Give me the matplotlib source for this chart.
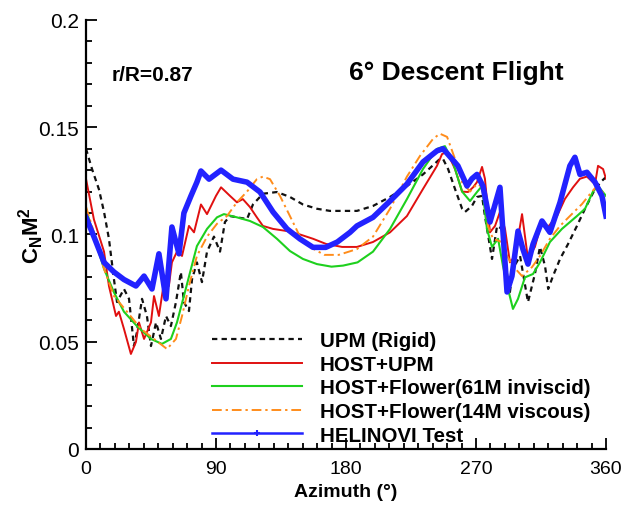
import matplotlib
matplotlib.use('Agg')
import matplotlib.pyplot as plt
from matplotlib.lines import Line2D

plt.rcParams['font.family'] = ['Liberation Sans', 'DejaVu Sans']
plt.rcParams['mathtext.fontset'] = 'custom'
plt.rcParams['mathtext.rm'] = 'Liberation Sans'
plt.rcParams['mathtext.bf'] = 'Liberation Sans:bold'

# HELINOVI test (blue)
az_test = [0, 5.5, 12.5, 19.4, 26.3, 34.6, 40.2, 45.7, 50.5, 55.4, 59.5, 64.4, 67.8,
           72.7, 76.8, 79.6, 85.2, 93.5, 101.8, 111.5, 120.5, 129.5, 139.2, 148.2,
           157.2, 166, 174, 182.8, 187.6, 198.7, 210.5, 222.2, 233.3, 243, 247.2,
           253.4, 257.5, 263.8, 267.2, 270.7, 274.8, 279.7, 286.6, 291.5, 294.9,
           299.1, 302.5, 306, 309.5, 315.7, 321.2, 328.2, 335, 338.5, 342, 346.8,
           352.4, 357.2, 360]
cn_test = [0.108, 0.099, 0.087, 0.0825, 0.079, 0.076, 0.0806, 0.0746, 0.091, 0.070,
           0.1035, 0.091, 0.110, 0.118, 0.1244, 0.1296, 0.1258, 0.130, 0.1258, 0.1244,
           0.1198, 0.1105, 0.1026, 0.0979, 0.094, 0.094, 0.0965, 0.101, 0.104, 0.108,
           0.1156, 0.1235, 0.1338, 0.139, 0.140, 0.1352, 0.132, 0.1226, 0.126, 0.128,
           0.1226, 0.1058, 0.122, 0.0732, 0.0806, 0.1016, 0.0932, 0.0862, 0.0955,
           0.1063, 0.101, 0.115, 0.132, 0.136, 0.128, 0.129, 0.1244, 0.118, 0.1086]

# HOST+UPM (red)
az_hu = [0, 5.5, 12.5, 15.9, 20.8, 22.8, 26.3, 31.1, 34.6, 36.7, 40.2, 45, 47.1, 50.5,
         54, 57.4, 59.5, 63, 66.5, 71.3, 74.8, 79.6, 83.8, 90, 93.5, 99.7, 104.5,
         108.6, 113.5, 118.3, 122.5, 129.5, 139.2, 148.2, 157.2, 166.2, 177.3, 187.6,
         198.7, 210.5, 222.2, 233.3, 243, 246.5, 250, 255.5, 260.4, 264.5, 268, 270.7,
         274.2, 276.2, 279.7, 283.2, 286.6, 290.1, 293.5, 297, 301.9, 306, 310.8,
         315.7, 319.8, 326.1, 331.6, 337.2, 342, 346.8, 352.4, 354.5, 358, 360]
cn_hu = [0.126, 0.107, 0.092, 0.076, 0.062, 0.064, 0.056, 0.0443, 0.0499, 0.059, 0.0513,
         0.059, 0.0713, 0.062, 0.0778, 0.076, 0.087, 0.092, 0.090, 0.104, 0.101, 0.114,
         0.1095, 0.118, 0.122, 0.118, 0.115, 0.1165, 0.1128, 0.108, 0.104, 0.1026,
         0.1016, 0.100, 0.098, 0.0956, 0.0942, 0.0942, 0.0965, 0.101, 0.1086, 0.1212,
         0.132, 0.1375, 0.1385, 0.1305, 0.120, 0.1198, 0.122, 0.1244, 0.1315, 0.126,
         0.101, 0.104, 0.1105, 0.1026, 0.087, 0.090, 0.1095, 0.0886, 0.0942, 0.1063,
         0.1035, 0.1086, 0.1166, 0.122, 0.126, 0.127, 0.1235, 0.132, 0.1305, 0.126]

# HOST+Flower 61M inviscid (green)
az_fi = [0, 5.5, 12.5, 19.4, 26.3, 35.3, 45, 52.6, 58.8, 63, 67.8, 72.7, 76.8, 83.8,
         90.7, 95.5, 104.5, 113.5, 122.5, 132.2, 141.2, 150.2, 159.9, 170, 178, 188,
         198.7, 210.5, 222.2, 233.3, 243, 248.5, 254, 260.4, 265.9, 270.7, 274.2,
         277.6, 281.1, 285.3, 288.7, 292.2, 295.6, 299.1, 303.9, 309.5, 314.3, 321.2,
         329.5, 339.9, 345.5, 351, 354.5, 360]
cn_fi = [0.112, 0.099, 0.084, 0.073, 0.064, 0.0573, 0.0513, 0.049, 0.0513, 0.059,
         0.0713, 0.084, 0.0946, 0.1026, 0.108, 0.1095, 0.108, 0.1063, 0.1035, 0.098,
         0.0923, 0.0886, 0.0862, 0.085, 0.0855, 0.087, 0.092, 0.1026, 0.1165, 0.1305,
         0.1399, 0.1412, 0.1338, 0.120, 0.1156, 0.1198, 0.1226, 0.1026, 0.0942, 0.098,
         0.0853, 0.0746, 0.0653, 0.070, 0.080, 0.0816, 0.087, 0.0965, 0.1026, 0.1086,
         0.112, 0.120, 0.1226, 0.118]

# HOST+Flower 14M viscous (orange)
az_fv = [0, 5.5, 12.5, 19.4, 28.4, 38.1, 47.1, 56.1, 62.3, 66.5, 71.3, 76.8, 83.8,
         90.7, 97.6, 104.5, 111.5, 118.3, 122.5, 127.4, 134.3, 141.2, 148.2, 155.1,
         165, 175, 187.6, 198.7, 210.5, 222.2, 231.2, 240.2, 245, 250, 255.5, 260.4,
         265.9, 270.7, 274.8, 278.3, 281.8, 288, 291.5, 295.6, 301.9, 308.8, 314.3,
         321.2, 328.2, 335, 343.4, 350.3, 353.8, 360]
cn_fv = [0.113, 0.101, 0.084, 0.0713, 0.064, 0.056, 0.0513, 0.0466, 0.0513, 0.062,
         0.076, 0.090, 0.099, 0.105, 0.1086, 0.115, 0.120, 0.1258, 0.127, 0.1258,
         0.118, 0.1086, 0.099, 0.0942, 0.0905, 0.0905, 0.0932, 0.099, 0.112, 0.127,
         0.1366, 0.1445, 0.147, 0.1455, 0.1352, 0.1244, 0.120, 0.1235, 0.122, 0.104,
         0.098, 0.0965, 0.090, 0.0853, 0.0806, 0.0848, 0.090, 0.098, 0.104, 0.1086,
         0.1142, 0.120, 0.1226, 0.118]

# UPM rigid (black dashed)
az_upm = [0, 4.2, 9, 12.5, 15.9, 19.4, 21.5, 26.3, 29.8, 33.2, 35.3, 38.8, 42.2, 45,
          48.5, 51.9, 55.4, 58.8, 62.3, 65.7, 67.8, 71.3, 73.4, 76.8, 80.3, 83.8,
          88.6, 92.8, 96.2, 99.7, 104.5, 111.5, 115.6, 122.5, 132.2, 141.2, 150.2,
          159.9, 168.9, 177.9, 187.6, 198.7, 210.5, 222.2, 233.3, 245, 247.2, 250.7,
          255.5, 260.4, 262.4, 267.2, 270.7, 274.2, 276.2, 281.1, 284.6, 288, 290.1,
          293.5, 295.6, 300.5, 306, 310.8, 314.3, 317.8, 320, 323.3, 328.2, 333.7,
          339.9, 345.5, 352.4, 357.2, 360]
cn_upm = [0.140, 0.1305, 0.121, 0.1105, 0.098, 0.079, 0.0685, 0.0746, 0.070, 0.048,
          0.0545, 0.070, 0.062, 0.048, 0.059, 0.0513, 0.062, 0.0573, 0.0685, 0.0825,
          0.0685, 0.0643, 0.079, 0.087, 0.0778, 0.092, 0.099, 0.092, 0.1058, 0.1086,
          0.108, 0.1072, 0.114, 0.119, 0.1198, 0.1175, 0.114, 0.112, 0.111, 0.111,
          0.111, 0.1133, 0.1175, 0.1226, 0.128, 0.1352, 0.1352, 0.1305, 0.1212, 0.112,
          0.1105, 0.1133, 0.1175, 0.118, 0.1086, 0.0886, 0.104, 0.1026, 0.0876, 0.0732,
          0.084, 0.090, 0.0685, 0.0816, 0.0942, 0.0853, 0.0746, 0.0806, 0.0886, 0.0955,
          0.104, 0.112, 0.1212, 0.125, 0.1268]

labels = ['UPM (Rigid)', 'HOST+UPM', 'HOST+Flower(61M inviscid)',
          'HOST+Flower(14M viscous)', 'HELINOVI Test']
c_black, c_red, c_green, c_orange, c_blue = '#111111', '#e01010', '#1ed01e', '#ff8c1a', '#2222ff'

fig = plt.figure(figsize=(6.34, 5.06), dpi=100)
ax = fig.add_axes([0.1356, 0.1107, 0.8202, 0.8478])

ax.plot(az_upm, cn_upm, color=c_black, lw=1.6, ls=(0, (2.4, 1.9)))
ax.plot(az_hu, cn_hu, color=c_red, lw=1.4)
ax.plot(az_fi, cn_fi, color=c_green, lw=1.5)
ax.plot(az_fv, cn_fv, color=c_orange, lw=1.4, ls=(0, (5, 2, 1.2, 2)))
ax.plot(az_test, cn_test, color=c_blue, lw=4, solid_joinstyle='round')

# legend proxies: thin test line with one marker, as in the original
handles = [
    Line2D([], [], color=c_black, lw=1.6, ls=(0, (2.4, 1.9))),
    Line2D([], [], color=c_red, lw=1.4),
    Line2D([], [], color=c_green, lw=1.5),
    Line2D([], [], color=c_orange, lw=1.4, ls=(0, (5, 2, 1.2, 2))),
    Line2D([], [], color=c_blue, lw=1.8, marker='+', ms=5, mew=1.5),
]
ax.legend(handles, labels, loc='upper left', bbox_to_anchor=(0.3344, 0.343),
          bbox_transform=fig.transFigure, frameon=False, borderpad=0, borderaxespad=0,
          handlelength=4.4, handletextpad=0.85, labelspacing=0.22, numpoints=1,
          prop={'weight': 'bold', 'size': 14.8})

ax.set_xlim(0, 360)
ax.set_ylim(0, 0.2)
ax.set_xticks([0, 90, 180, 270, 360])
ax.set_xticks(range(0, 361, 10), minor=True)
ax.set_yticks([0, 0.05, 0.1, 0.15, 0.2])
ax.set_yticklabels(['0', '0.05', '0.1', '0.15', '0.2'])
ax.set_yticks([i * 0.01 for i in range(21)], minor=True)
ax.tick_params(which='both', direction='in', width=1.3, labelsize=15)
ax.tick_params(which='major', length=8)
ax.tick_params(which='minor', length=4)
ax.tick_params(axis='x', pad=8, labelsize=14)
ax.tick_params(axis='y', pad=5)
ax.spines['top'].set_visible(False)
ax.spines['right'].set_visible(False)
ax.spines['left'].set_linewidth(1.6)
ax.spines['bottom'].set_linewidth(1.6)

ax.set_xlabel('Azimuth (°)', fontsize=14, fontweight='bold')
ax.xaxis.set_label_coords(0.5, -0.0795)
ax.set_ylabel(r'$\mathbf{C_N M^2}$', fontsize=16, labelpad=-5.5)

ax.text(0.05, 0.872, 'r/R=0.87', transform=ax.transAxes, fontsize=15,
        fontweight='bold', va='center', ha='left')
ax.text(0.506, 0.879, '6° Descent Flight', transform=ax.transAxes, fontsize=19,
        fontweight='bold', va='center', ha='left')

fig.savefig('out.png', dpi=100)
